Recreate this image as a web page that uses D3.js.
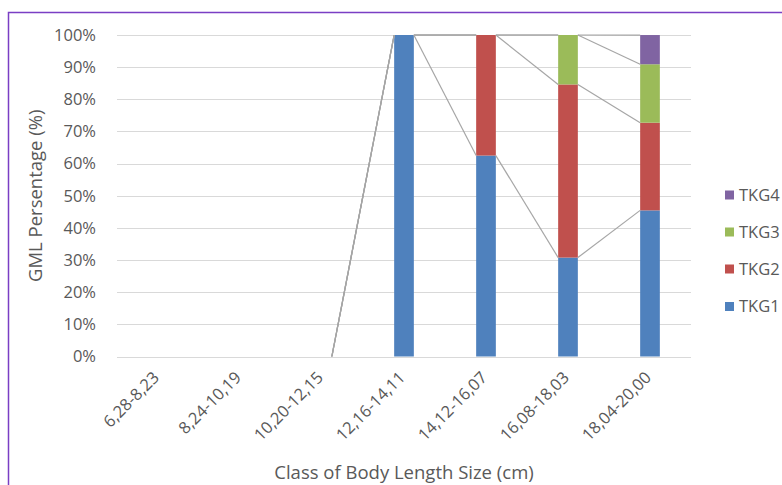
<!DOCTYPE html>
<html>
<head>
<meta charset="utf-8">
<script src="https://cdn.jsdelivr.net/npm/d3@7/dist/d3.min.js"></script>
<style>
  html, body { margin: 0; padding: 0; background: #fff; }
  svg { display: block; font-family: "Open Sans", "DejaVu Sans", sans-serif; }
</style>
</head>
<body>
<svg id="chart" width="782" height="485"></svg>
<script>
const categories = ["6,28-8,23", "8,24-10,19", "10,20-12,15", "12,16-14,11", "14,12-16,07", "16,08-18,03", "18,04-20,00"];
const seriesNames = ["TKG1", "TKG2", "TKG3", "TKG4"];
const TKG1 = [0, 0, 0, 100, 62.5, 30.77, 45.45];
const TKG2 = [0, 0, 0, 0, 37.5, 53.85, 27.27];
const TKG3 = [0, 0, 0, 0, 0, 15.38, 18.18];
const TKG4 = [0, 0, 0, 0, 0, 0, 9.09];
const yTicks = [0, 10, 20, 30, 40, 50, 60, 70, 80, 90, 100];
const colors = ["#4f81bd", "#c0504d", "#9bbb59", "#8064a2"];

const seriesValues = [TKG1, TKG2, TKG3, TKG4];
const rows = categories.map((c, i) => {
  const r = { cat: c };
  seriesNames.forEach((s, k) => r[s] = seriesValues[k][i]);
  return r;
});
const stack = d3.stack().keys(seriesNames)(rows);

const svg = d3.select("#chart");
const W = 782, H = 485;
const m = { left: 117, right: 91, top: 35, bottom: 128.5 };
const pw = W - m.left - m.right, ph = H - m.top - m.bottom;
const textCol = "#595959";

// outer border
svg.append("rect").attr("x", 8.5).attr("y", 12.5).attr("width", 800).attr("height", 500)
  .attr("fill", "none").attr("stroke", "#7a3fc4").attr("stroke-width", 1.5);

const g = svg.append("g").attr("transform", `translate(${m.left},${m.top})`);

const x = d3.scaleBand().domain(categories).range([0, pw]).paddingInner(0.76).paddingOuter(0.38);
const y = d3.scaleLinear().domain([0, 100]).range([ph, 0]);

// gridlines
g.append("g").selectAll("line").data(yTicks).join("line")
  .attr("x1", 0).attr("x2", pw)
  .attr("y1", d => Math.round(y(d)) + 0.5).attr("y2", d => Math.round(y(d)) + 0.5)
  .attr("stroke", "#d9d9d9").attr("stroke-width", 1.2);

// y axis labels
const yAxis = d3.axisLeft(y).tickValues(yTicks).tickFormat(d => d + "%").tickSize(0).tickPadding(21);
const ya = g.append("g").call(yAxis);
ya.select(".domain").remove();
ya.selectAll("text").attr("fill", textCol).style("font-size", "16.5px").style("font-family", "'Open Sans', sans-serif");

// bars
g.append("g").selectAll("g").data(stack).join("g")
  .attr("fill", (d, i) => colors[i])
  .selectAll("rect").data(d => d).join("rect")
  .attr("x", d => x(d.data.cat))
  .attr("width", x.bandwidth())
  .attr("y", d => y(d[1]))
  .attr("height", d => y(d[0]) - y(d[1]));

// series lines (connect stacked tops between neighbouring bars)
const sl = g.append("g").attr("stroke", "#a6a6a6").attr("stroke-width", 1.2).attr("fill", "none");
stack.forEach(s => {
  for (let i = 0; i < s.length - 1; i++) {
    if (s[i][1] === 0 && s[i + 1][1] === 0) continue;
    sl.append("line")
      .attr("x1", x(categories[i]) + x.bandwidth())
      .attr("y1", y(s[i][1]))
      .attr("x2", x(categories[i + 1]))
      .attr("y2", y(s[i + 1][1]));
  }
});

// x axis labels
const xa = g.append("g").attr("transform", `translate(0,${ph})`);
xa.selectAll("text").data(categories).join("text")
  .attr("transform", d => `translate(${x(d) + x.bandwidth() / 2 - 2},${18}) rotate(-45)`)
  .attr("text-anchor", "end")
  .attr("dy", "0.35em")
  .attr("fill", textCol).style("font-size", "16.5px")
  .text(d => d);

// axis titles
svg.append("text")
  .attr("transform", `translate(42,${m.top + ph / 2}) rotate(-90)`)
  .attr("text-anchor", "middle")
  .attr("fill", textCol).style("font-size", "18.5px")
  .text("GML Persentage (%)");

svg.append("text")
  .attr("x", m.left + pw / 2).attr("y", 479)
  .attr("text-anchor", "middle")
  .attr("fill", textCol).style("font-size", "18.5px")
  .text("Class of Body Length Size (cm)");

// legend (reversed order)
const legendY = [195, 232, 269, 306.5];
const leg = svg.append("g");
seriesNames.slice().reverse().forEach((s, i) => {
  const k = seriesNames.length - 1 - i;
  leg.append("rect").attr("x", 725).attr("y", legendY[i] - 4.5).attr("width", 9).attr("height", 9).attr("fill", colors[k]);
  leg.append("text").attr("x", 739).attr("y", legendY[i]).attr("dy", "0.35em")
    .attr("fill", textCol).style("font-size", "16.5px").text(s);
});
</script>
</body>
</html>
